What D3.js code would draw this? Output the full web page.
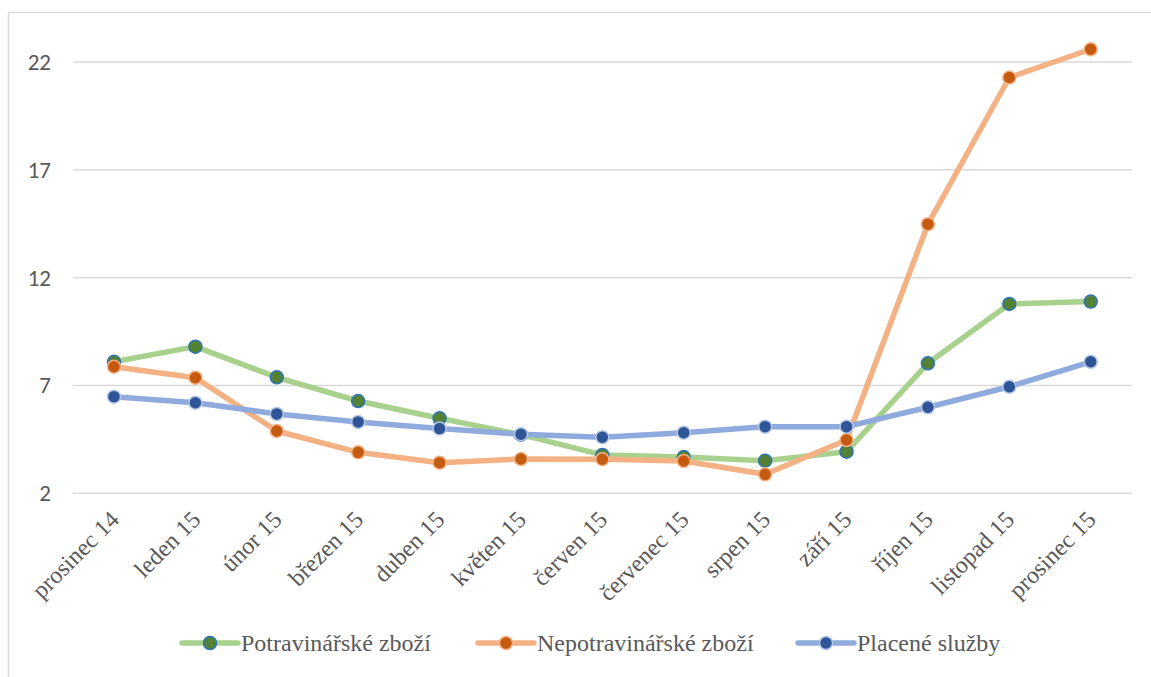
<!DOCTYPE html>
<html>
<head>
<meta charset="utf-8">
<script src="https://cdn.jsdelivr.net/npm/d3@7"></script>
<style>
  html, body { margin: 0; padding: 0; background: #ffffff; }
  svg { display: block; }
</style>
</head>
<body>
<svg id="chart" width="1151" height="677"></svg>
<script>
// Monthly values by category
const months = ["prosinec 14", "leden 15", "únor 15", "březen 15", "duben 15", "květen 15",
  "červen 15", "červenec 15", "srpen 15", "září 15", "říjen 15", "listopad 15", "prosinec 15"];
const potravinarske = [8.1, 8.8, 7.38, 6.28, 5.48, 4.72, 3.78, 3.68, 3.51, 3.93, 8.03, 10.78, 10.89];
const nepotravinarske = [7.87, 7.36, 4.89, 3.9, 3.42, 3.59, 3.58, 3.5, 2.88, 4.47, 14.48, 21.28, 22.59];
const placeneSluzby = [6.48, 6.2, 5.68, 5.31, 5.0, 4.74, 4.6, 4.81, 5.09, 5.09, 5.99, 6.94, 8.1];
const yTicks = [2, 7, 12, 17, 22];

const seriesNames = ["Potravinářské zboží", "Nepotravinářské zboží", "Placené služby"];
const seriesValues = [potravinarske, nepotravinarske, placeneSluzby];
const styles = [
  { line: "#a9d18e", fill: "#548235", stroke: "#2e75b6" },
  { line: "#f4b183", fill: "#c55a11", stroke: "#f4b183" },
  { line: "#8faadc", fill: "#2f5597", stroke: "#b4c7e7" }
];

const serif = "'Liberation Serif', Tinos, 'Times New Roman', serif";
const sans = "Carlito, 'Open Sans', sans-serif";

const svg = d3.select("#chart");

// chart frame
svg.append("rect")
  .attr("x", 8.5).attr("y", 12.5)
  .attr("width", 1160).attr("height", 700)
  .attr("fill", "none").attr("stroke", "#d9d9d9").attr("stroke-width", 1.5);

const x = d3.scalePoint().domain(months).range([73.3, 1131.4]).padding(0.5);
const y = d3.scaleLinear().domain([2, 22]).range([493.3, 62]);

// horizontal gridlines
svg.append("g").selectAll("line").data(yTicks).join("line")
  .attr("x1", 73).attr("x2", 1132)
  .attr("y1", d => y(d)).attr("y2", d => y(d))
  .attr("stroke", "#d9d9d9").attr("stroke-width", 1.5);

// value axis labels
const yAxis = d3.axisLeft(y).tickValues(yTicks).tickSize(0).tickPadding(0);
const yg = svg.append("g").attr("transform", "translate(51,0)").call(yAxis);
yg.select(".domain").remove();
yg.selectAll("text")
  .attr("fill", "#595959")
  .style("font-family", sans)
  .style("font-size", "23px");

// category axis labels
const xAxis = d3.axisBottom(x).tickSize(0).tickPadding(0);
const xg = svg.append("g").attr("transform", "translate(0,493)").call(xAxis);
xg.select(".domain").remove();
xg.selectAll("text")
  .attr("fill", "#595959")
  .style("font-family", serif)
  .style("font-size", "24px")
  .attr("text-anchor", "end")
  .attr("dy", 0)
  .attr("transform", "translate(6,28) rotate(-45)");

// series lines and markers
const line = d3.line().x((d, i) => x(months[i])).y(d => y(d));
seriesValues.forEach((vals, s) => {
  const g = svg.append("g");
  g.append("path")
    .datum(vals)
    .attr("d", line)
    .attr("fill", "none")
    .attr("stroke", styles[s].line)
    .attr("stroke-width", 5.5)
    .attr("stroke-linejoin", "round")
    .attr("stroke-linecap", "round");
  g.selectAll("circle").data(vals).join("circle")
    .attr("cx", (d, i) => x(months[i]))
    .attr("cy", d => y(d))
    .attr("r", 6.5)
    .attr("fill", styles[s].fill)
    .attr("stroke", styles[s].stroke)
    .attr("stroke-width", 1.5);
});

// legend
const legendX = [182, 478, 798];
const legend = svg.append("g").selectAll("g").data(seriesNames).join("g")
  .attr("transform", (d, i) => `translate(${legendX[i]},643)`);
legend.append("line")
  .attr("x1", 0).attr("x2", 56).attr("y1", 0).attr("y2", 0)
  .attr("stroke", (d, i) => styles[i].line).attr("stroke-width", 5.5)
  .attr("stroke-linecap", "round");
legend.append("circle")
  .attr("cx", 28).attr("cy", 0).attr("r", 6.5)
  .attr("fill", (d, i) => styles[i].fill)
  .attr("stroke", (d, i) => styles[i].stroke).attr("stroke-width", 1.5);
legend.append("text")
  .attr("x", 59).attr("y", 0).attr("dy", "0.33em")
  .attr("fill", "#595959")
  .style("font-family", serif)
  .style("font-size", "24px")
  .text(d => d);
</script>
</body>
</html>
